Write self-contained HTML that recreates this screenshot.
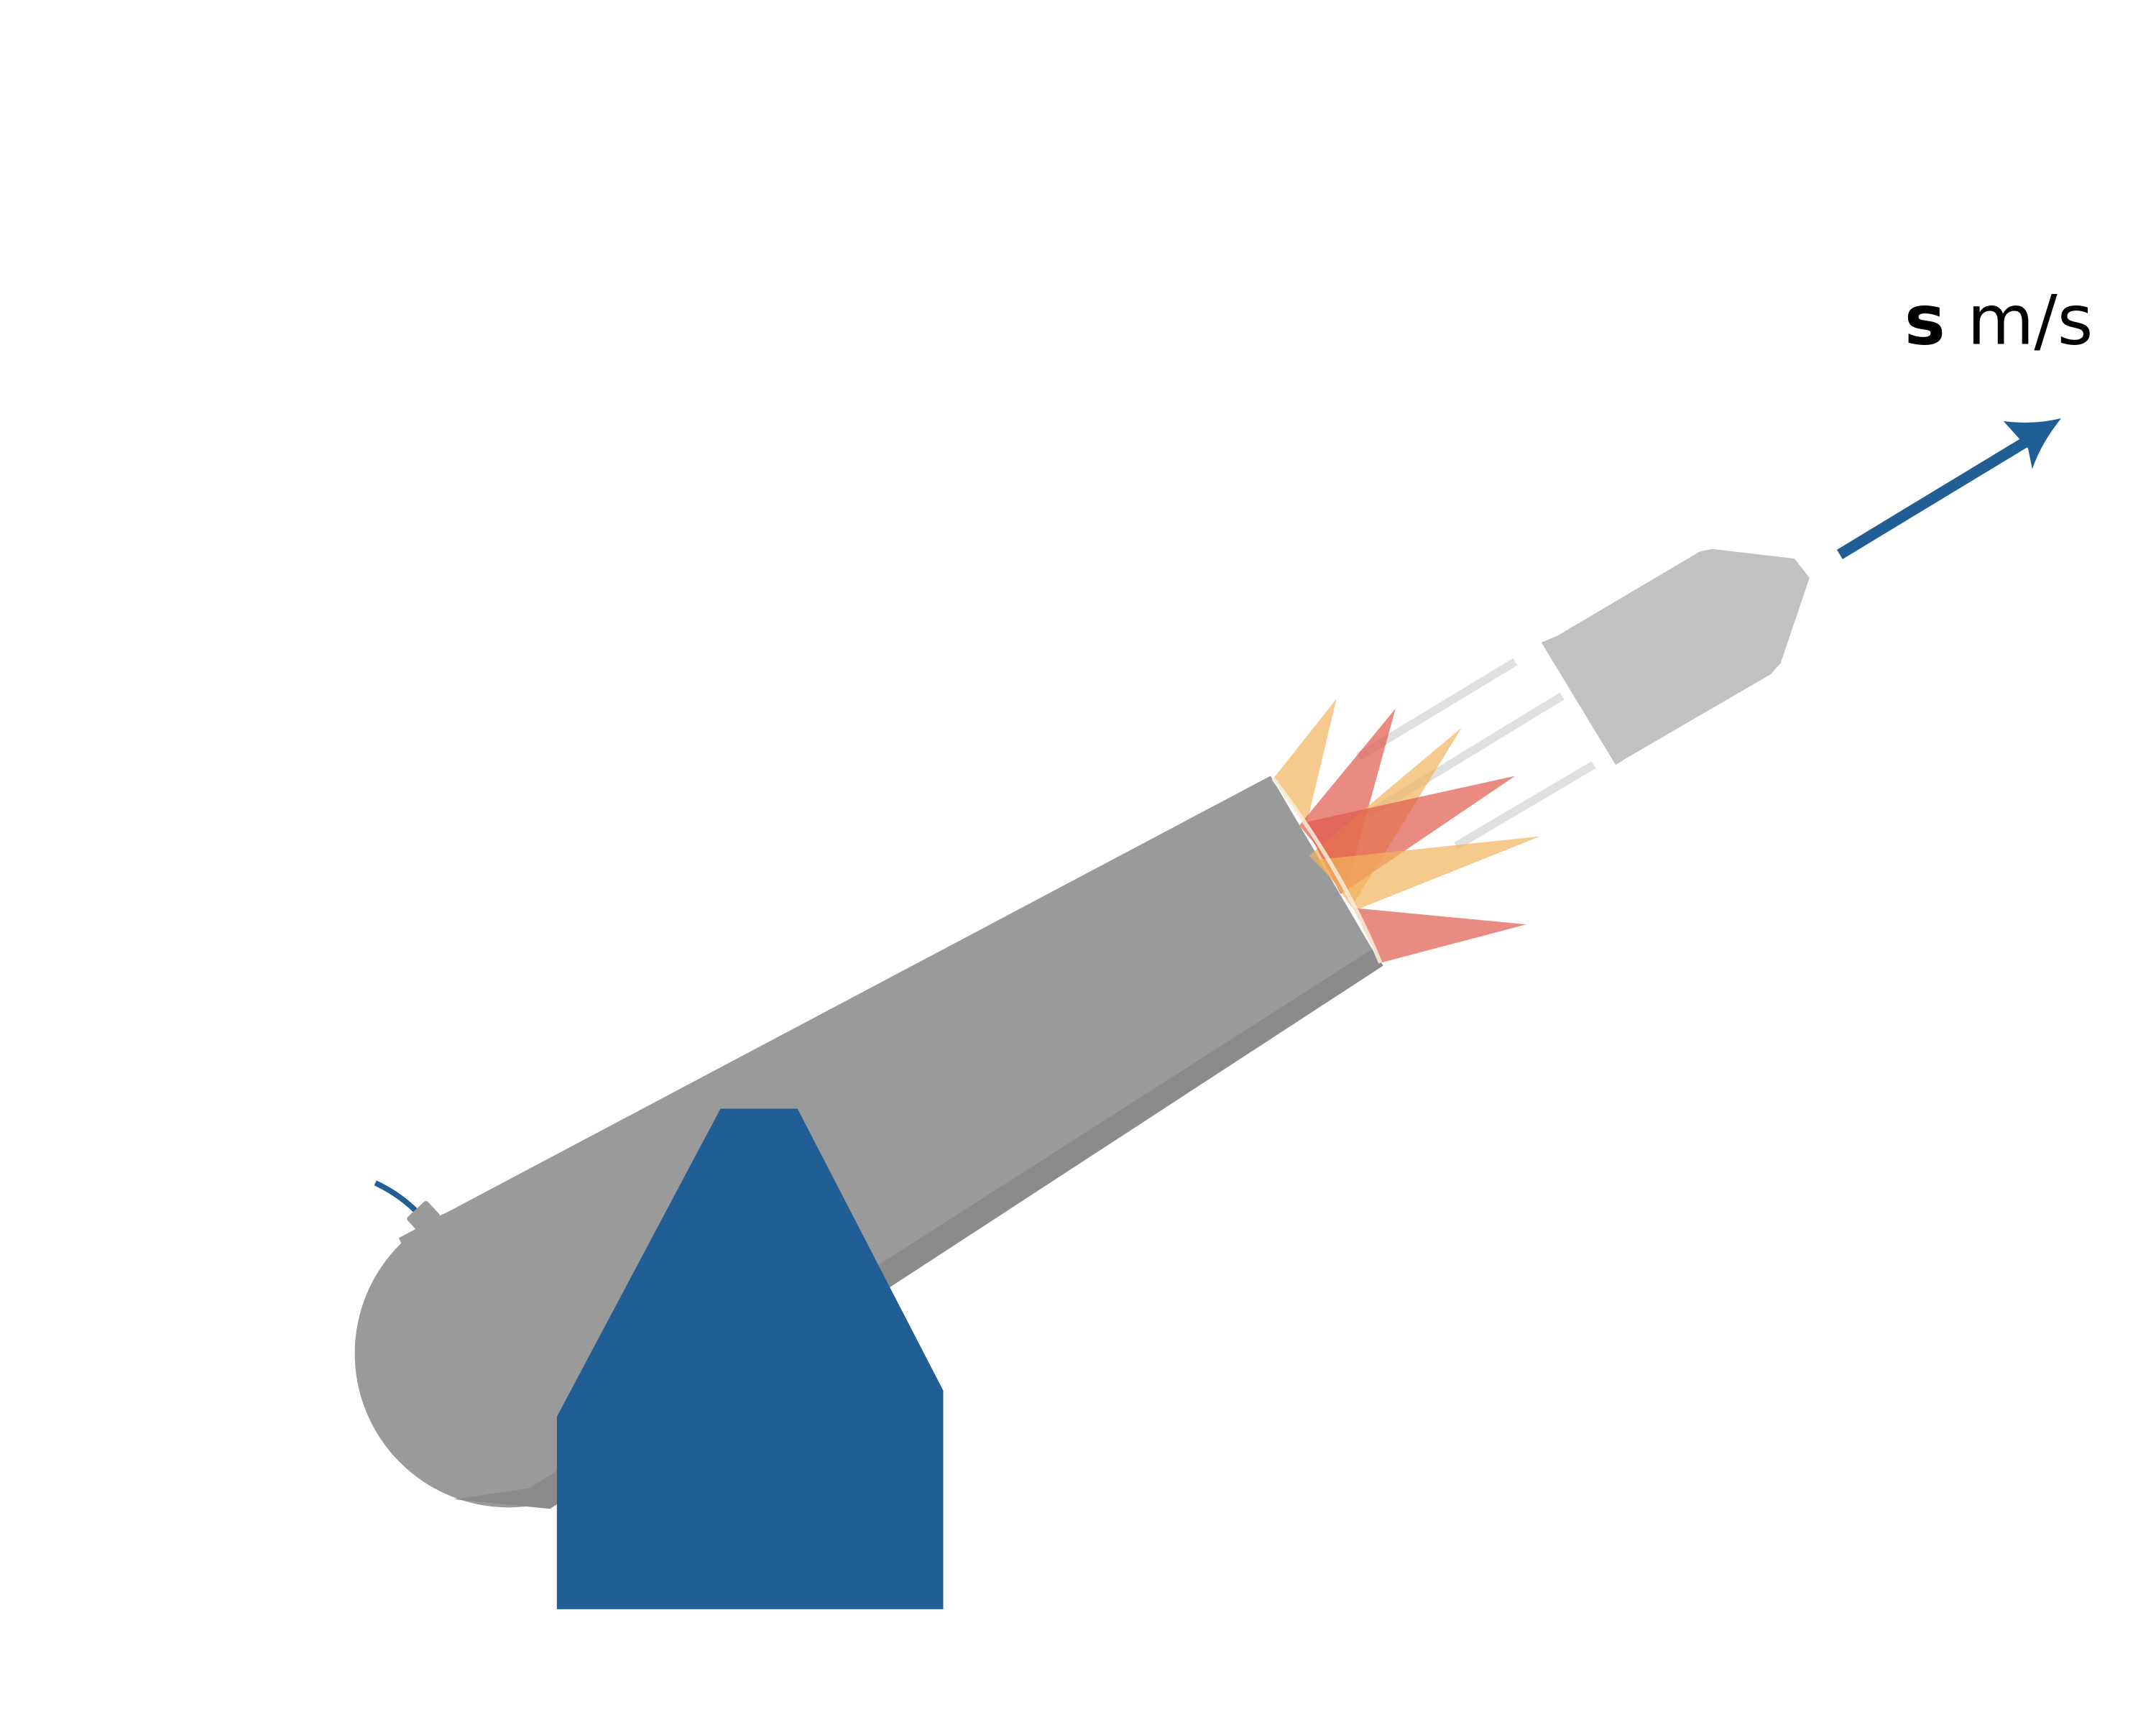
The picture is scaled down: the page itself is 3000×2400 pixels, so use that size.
<!DOCTYPE html>
<html><head><meta charset="utf-8"><style>html,body{margin:0;padding:0;background:#fff}svg{display:block}</style></head>
<body>
<svg width="3000" height="2400" viewBox="0 0 1568 1254" xmlns="http://www.w3.org/2000/svg">
<rect width="1568" height="1254" fill="#fff"/>
<g stroke="#e0e0e0" stroke-width="6">
<line x1="988" y1="550" x2="1102" y2="481"/>
<line x1="995" y1="592" x2="1136" y2="506"/>
<line x1="1059" y1="615" x2="1159" y2="556"/>
</g>
<path d="M273,860 Q292,869 305,883" stroke="#225e96" stroke-width="4" fill="none"/>
<g>
<circle cx="370" cy="984" r="112" fill="#9a9a9a"/>
<polygon points="290,900 924,564 1005,702 380,1092" fill="#9a9a9a"/>
<polygon points="998,690 1006,702 400,1097 330,1090 385,1082" fill="#8a8b8a"/>
<rect x="298" y="877" width="20" height="16" rx="2" transform="rotate(-43 308 885)" fill="#9a9a9a"/>
</g>
<g>
<polygon points="926,566 972,508 950,600" fill="#f2b25c" opacity="0.7"/>
<polygon points="945,600 1015,515 980,642" fill="#e05a4c" opacity="0.7"/>
<polygon points="952,622 1063,529 985,656" fill="#f2b25c" opacity="0.7"/>
<polygon points="948,598 1102,564 975,650" fill="#e05a4c" opacity="0.7"/>
<polygon points="958,625 1120,608 985,662" fill="#f2b25c" opacity="0.7"/>
<polygon points="984,660 1110,672 1004,700" fill="#e05a4c" opacity="0.7"/>
<path d="M926,566 Q975,630 1004,700" stroke="#f4efdc" stroke-width="3" fill="none" opacity="0.85"/>
</g>
<polygon points="1121,467 1133,462 1236,401 1245,399 1305,406 1316,420 1295,482 1288,490 1183,551 1175,556" fill="#c2c1bf"/>
<polygon points="405,1030 524,806 580,806 686,1011 686,1170 405,1170" fill="#225e96"/>
<g>
<line x1="1338" y1="403" x2="1480" y2="317" stroke="#225e96" stroke-width="8"/>
<path d="M1457,306 Q1478,309 1499,304 Q1484,323 1478,341 L1475,326 Z" fill="#225e96"/>
</g>
<text x="1385" y="250" font-family="'DejaVu Sans','Liberation Sans',sans-serif" font-size="50" fill="#000"><tspan font-weight="bold">s</tspan> m/s</text>
</svg>
</body></html>
